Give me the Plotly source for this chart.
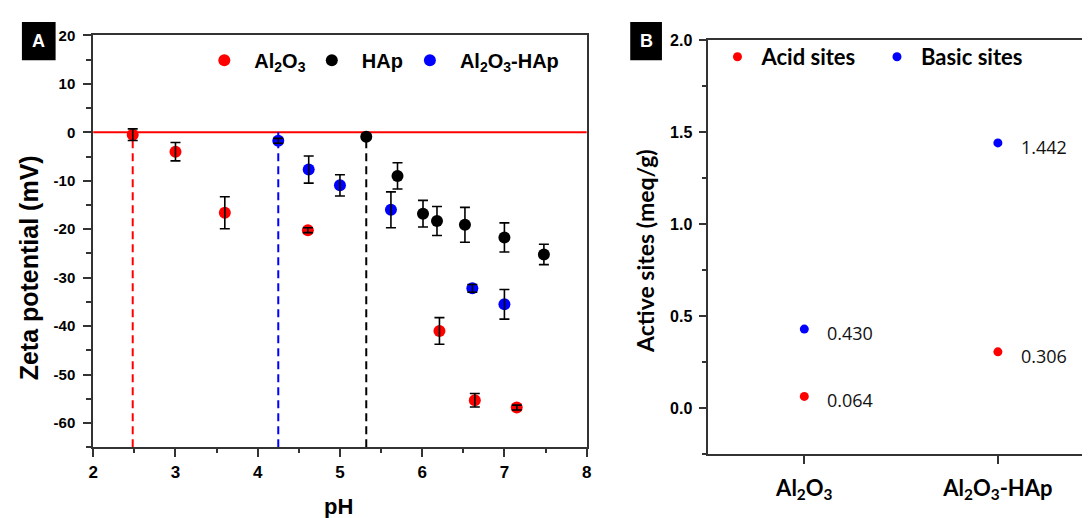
import plotly.graph_objects as go

# The page has an 8px body margin, so the figure is drawn 8px smaller and
# every reference pixel position is converted with that offset.
OFF = 8
W, H = 1090 - OFF, 518 - OFF

# ---------------- Panel A data: zeta potential vs pH ----------------
al2o3_ph = [2.48, 3.0, 3.6, 4.61, 6.21, 6.64, 7.15]
al2o3_zeta = [-0.5, -4.0, -16.6, -20.2, -41.0, -55.3, -56.8]
al2o3_err = [1.2, 1.9, 3.3, 0.5, 2.75, 1.4, 0.5]

hap_ph = [5.32, 5.70, 6.01, 6.18, 6.52, 7.0, 7.48]
hap_zeta = [-0.9, -9.0, -16.8, -18.3, -19.1, -21.7, -25.2]
hap_err = [0.5, 2.7, 2.75, 3.0, 3.6, 3.0, 2.1]

comp_ph = [4.25, 4.62, 5.0, 5.62, 6.61, 7.0]
comp_zeta = [-1.75, -7.7, -10.95, -16.0, -32.2, -35.5]
comp_err = [0.5, 2.8, 2.2, 3.7, 0.8, 3.05]

pzc_ph = [2.48, 4.25, 5.32]          # isoelectric points (dashed lines)
series_names_a = ["Al<sub>2</sub>O<sub>3</sub>", "HAp", "Al<sub>2</sub>O<sub>3</sub>-HAp"]

a_y_ticks = [20, 10, 0, -10, -20, -30, -40, -50, -60]
a_y_ticktext = ["20", "10", "0", "-10", "-20", "-30", "-40", "-50", "-60"]

# ---------------- Panel B data: active sites ----------------
materials = ["Al<sub>2</sub>O<sub>3</sub>", "Al<sub>2</sub>O<sub>3</sub>-HAp"]
acid_sites = [0.064, 0.306]
basic_sites = [0.430, 1.442]
series_names_b = ["Acid sites", "Basic sites"]

# ---------------- styling ----------------
RED, BLUE, BLACK = "#ff0000", "#0000ff", "#000000"
AX = "#333333"
ARIAL = "Liberation Sans"
CAL = "Lato"


def px(xp):
    return (xp - OFF) / W


def py(yp):
    return 1 - (yp - OFF) / H


fig = go.Figure()

# Panel A marker traces
for xs, ys, col, name, lg in [
    (al2o3_ph, al2o3_zeta, RED, series_names_a[0], "legend"),
    (hap_ph, hap_zeta, BLACK, series_names_a[1], "legend2"),
    (comp_ph, comp_zeta, BLUE, series_names_a[2], "legend3"),
]:
    fig.add_trace(go.Scatter(
        x=xs, y=ys, mode="markers", name=name, legend=lg,
        marker=dict(color=col, size=12, line=dict(width=0)),
        xaxis="x", yaxis="y", showlegend=True,
    ))

# Panel A error bars (drawn on top of markers)
for xs, ys, es in [
    (al2o3_ph, al2o3_zeta, al2o3_err),
    (hap_ph, hap_zeta, hap_err),
    (comp_ph, comp_zeta, comp_err),
]:
    fig.add_trace(go.Scatter(
        x=xs, y=ys, mode="markers", showlegend=False, hoverinfo="skip",
        marker=dict(color="rgba(0,0,0,0)", size=12),
        error_y=dict(type="data", array=es, color=BLACK, thickness=1.6, width=5),
        xaxis="x", yaxis="y",
    ))

# Panel B marker traces
for ys, col, name, lg in [
    (acid_sites, RED, series_names_b[0], "legend4"),
    (basic_sites, BLUE, series_names_b[1], "legend5"),
]:
    fig.add_trace(go.Scatter(
        x=materials, y=ys, mode="markers", name=name, legend=lg,
        marker=dict(color=col, size=9, line=dict(width=0)),
        xaxis="x2", yaxis="y2",
    ))

# value labels in Panel B
annotations = []
for ys in (acid_sites, basic_sites):
    for m, v in zip(materials, ys):
        annotations.append(dict(
            x=m, y=v, xref="x2", yref="y2", text=f"{v:.3f}", showarrow=False,
            xanchor="left", yanchor="middle", xshift=21, yshift=-4,
            font=dict(family="Open Sans", size=18, color="#111111"),
        ))

# zero line and dashed IEP lines
shapes = [dict(type="line", xref="x domain", yref="y", x0=0, x1=1, y0=0, y1=0,
               line=dict(color=RED, width=2), layer="below")]
for xv, col in zip(pzc_ph, [RED, BLUE, BLACK]):
    shapes.append(dict(type="line", xref="x", yref="y domain", x0=xv, x1=xv, y0=0, y1=65 / 85,
                       line=dict(color=col, width=2, dash="8px,5px"), layer="below"))

# panel label boxes
for (x0, x1, lab) in [(17, 51, "A"), (631, 663, "B")]:
    shapes.append(dict(type="rect", xref="paper", yref="paper", x0=px(x0), x1=px(x1),
                       y0=py(52), y1=py(13), fillcolor="black", line=dict(width=0)))
    annotations.append(dict(x=px((x0 + x1) / 2), y=py(32.5), xref="paper", yref="paper",
                            text=lab, showarrow=False, xanchor="center", yanchor="middle",
                            font=dict(family=ARIAL, size=18, color="white", weight="bold")))

# axis titles
annotations += [
    dict(x=px(24), y=py(263), xref="paper", yref="paper", text="Zeta potential (mV)",
         textangle=-90, showarrow=False, xanchor="center", yanchor="middle",
         font=dict(family=ARIAL, size=25, color="black", weight="bold")),
    dict(x=px(337), y=py(506), xref="paper", yref="paper", text="pH",
         showarrow=False, xanchor="center", yanchor="middle",
         font=dict(family=ARIAL, size=22, color="black", weight="bold")),
    dict(x=px(646), y=py(246), xref="paper", yref="paper", text="Active sites (meq/g)",
         textangle=-90, showarrow=False, xanchor="center", yanchor="middle",
         font=dict(family=CAL, size=23, color="black", weight="bold")),
]

axis_common = dict(showline=True, linecolor=AX, linewidth=2, showgrid=False, zeroline=False,
                   ticks="outside", tickcolor=AX, tickwidth=1.5)

fig.update_layout(
    width=W, height=H, margin=dict(l=0, r=0, t=0, b=0),
    paper_bgcolor="white", plot_bgcolor="white",
    xaxis=dict(domain=[px(89), px(587)], range=[2, 8], dtick=1, tick0=2, mirror=True,
               ticklen=8, minor=dict(ticks="outside", ticklen=4, dtick=0.5, tickcolor=AX),
               tickfont=dict(family=ARIAL, size=17, color="black", weight="bold"),
               anchor="y", **axis_common),
    yaxis=dict(domain=[py(446), py(26.7)], range=[-65, 20], tickvals=a_y_ticks,
               ticktext=a_y_ticktext, mirror=True, ticklen=8,
               minor=dict(ticks="outside", ticklen=5, dtick=5, tickcolor=AX),
               ticklabelstandoff=5,
               tickfont=dict(family=ARIAL, size=15, color="black", weight="bold"),
               anchor="x", **axis_common),
    xaxis2=dict(domain=[px(709), 1.0], range=[-0.5, 1.45], type="category",
                categoryorder="array", categoryarray=materials, mirror=True, ticklen=8,
                ticklabelstandoff=5,
                tickfont=dict(family=CAL, size=22, color="black", weight="bold"),
                anchor="y2", **axis_common),
    yaxis2=dict(domain=[py(453), py(31.7)], range=[-0.25, 2.0], dtick=0.5, tick0=0,
                tickformat=".1f", ticklen=7,
                minor=dict(ticks="outside", ticklen=4, dtick=0.25, tickcolor=AX),
                ticklabelstandoff=3,
                tickfont=dict(family=ARIAL, size=16, color="black", weight="bold"),
                anchor="x2", **axis_common),
    shapes=shapes, annotations=annotations,
)

leg_font_a = dict(family=ARIAL, size=20, color="black", weight="bold")
leg_font_b = dict(family=CAL, size=22, color="black", weight="bold")
legend_common = dict(bgcolor="rgba(0,0,0,0)", borderwidth=0, yanchor="middle", xanchor="left",
                     orientation="h", itemclick=False)
fig.update_layout(
    legend=dict(x=px(221 - 30), y=py(52), font=leg_font_a, itemwidth=50, **legend_common),
    legend2=dict(x=px(329.5 - 30), y=py(52), font=leg_font_a, itemwidth=50, **legend_common),
    legend3=dict(x=px(428.5 - 30), y=py(52), font=leg_font_a, itemwidth=50, **legend_common),
    legend4=dict(x=px(739 - 24), y=py(48.7), font=leg_font_b, itemwidth=38, **legend_common),
    legend5=dict(x=px(900 - 24), y=py(48.7), font=leg_font_b, itemwidth=38, **legend_common),
)

fig.write_html("out.html")
